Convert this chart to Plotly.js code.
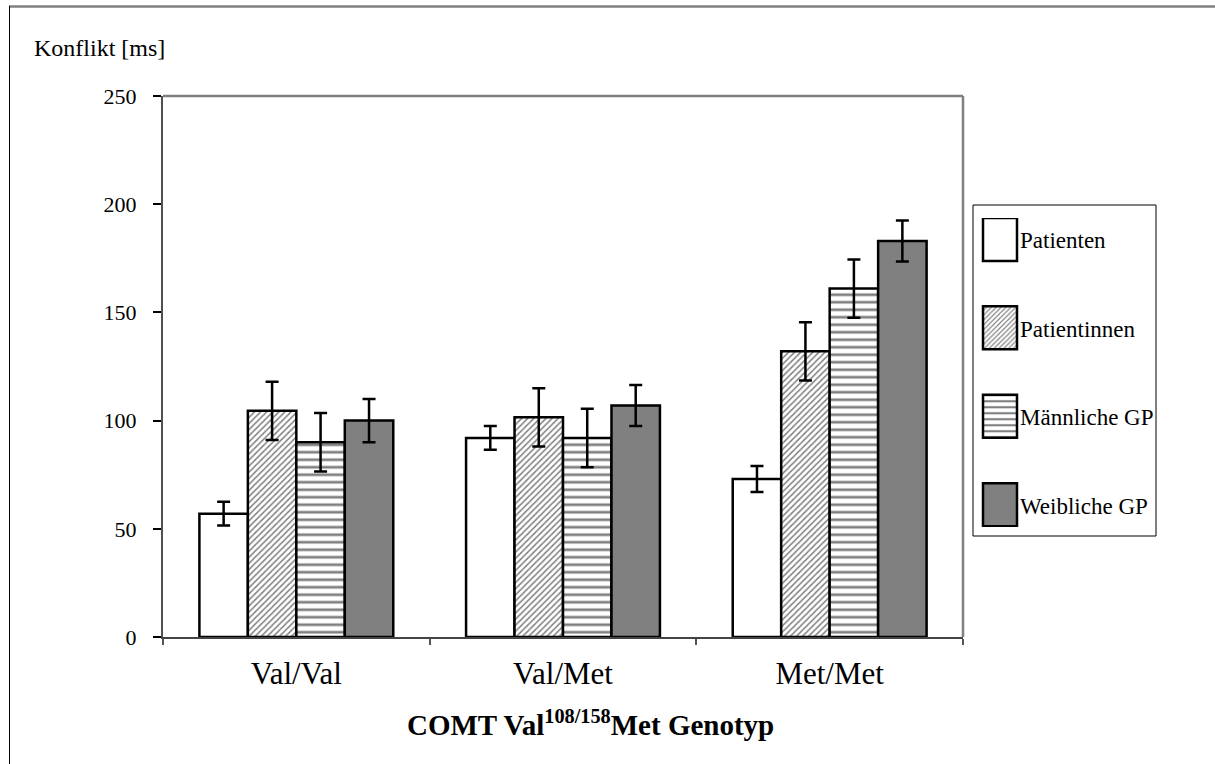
<!DOCTYPE html>
<html>
<head>
<meta charset="utf-8">
<script src="https://cdn.plot.ly/plotly-3.0.1.min.js"></script>
<style>
  html, body { margin: 0; padding: 0; background: #fff; }
  #chart { width: 1215px; height: 764px; }
</style>
</head>
<body>
<div id="chart"></div>
<script>
// Genotype groups on the x axis
const categories = ['Val/Val', 'Val/Met', 'Met/Met'];

// Series names (legend)
const seriesNames = ['Patienten', 'Patientinnen', 'Männliche GP', 'Weibliche GP'];

// Mean conflict effect [ms] per genotype, and its error (± ms)
const patienten       = [57, 92, 73];
const patientenErr    = [5.5, 5.5, 6];
const patientinnen    = [104.5, 101.5, 132];
const patientinnenErr = [13.5, 13.5, 13.5];
const maennlicheGP    = [90, 92, 161];
const maennlicheGPErr = [13.5, 13.5, 13.5];
const weiblicheGP     = [100, 107, 183];
const weiblicheGPErr  = [10, 9.5, 9.5];

// Y axis ticks
const yTicks = [0, 50, 100, 150, 200, 250];

// ---- layout geometry (pixels) ----
const W = 1215, H = 764;
const M = { l: 163, r: 252, t: 96, b: 127 };
const PW = W - M.l - M.r, PH = H - M.t - M.b;
const px2x = px => (px - M.l) / PW;
const px2y = py => (H - M.b - py) / PH;

const FONT = '"Liberation Serif", "Times New Roman", serif';
const GRAY = '#808080';

function barTrace(name, values, errors, marker) {
  return {
    type: 'bar',
    name: name,
    legendgroup: name,
    x: categories,
    y: values,
    marker: Object.assign({ line: { color: '#000', width: 2.5 } }, marker),
    error_y: { type: 'data', array: errors, visible: true, color: '#000', thickness: 2.5, width: 6.5 },
    hoverinfo: 'x+y+name'
  };
}

const data = [
  barTrace(seriesNames[0], patienten, patientenErr, { color: '#ffffff' }),
  barTrace(seriesNames[1], patientinnen, patientinnenErr,
    { color: '#ffffff', pattern: { shape: '/', fgcolor: GRAY, bgcolor: '#ffffff', size: 4.3, solidity: 0.35, fillmode: 'replace' } }),
  barTrace(seriesNames[2], maennlicheGP, maennlicheGPErr,
    { color: '#ffffff', pattern: { shape: '-', fgcolor: GRAY, bgcolor: '#ffffff', size: 7.5, solidity: 0.36, fillmode: 'replace' } }),
  barTrace(seriesNames[3], weiblicheGP, weiblicheGPErr, { color: GRAY })
];

const layout = {
  width: W,
  height: H,
  margin: M,
  paper_bgcolor: '#ffffff',
  plot_bgcolor: '#ffffff',
  font: { family: FONT, color: '#000', size: 22 },
  barmode: 'group',
  bargap: 0.273,
  bargroupgap: 0,
  showlegend: true,
  legend: {
    x: px2x(980), y: px2y(218), xanchor: 'left', yanchor: 'top',
    bgcolor: 'rgba(0,0,0,0)', borderwidth: 0,
    font: { family: FONT, size: 23, color: '#000' },
    tracegroupgap: 55.5,
    traceorder: 'grouped'
  },
  xaxis: {
    type: 'category',
    range: [-0.5, 2.5],
    showline: true, linecolor: '#444', linewidth: 2,
    ticks: 'outside', tickson: 'boundaries', ticklen: 6, tickcolor: '#555', tickwidth: 1.5,
    tickfont: { family: FONT, size: 31 },
    ticklabelstandoff: 8,
    showgrid: false, zeroline: false, fixedrange: true
  },
  yaxis: {
    range: [0, 250],
    tickvals: yTicks,
    ticktext: yTicks.map(String),
    showline: true, linecolor: '#505050', linewidth: 2,
    ticks: 'outside', ticklen: 8, tickcolor: '#000', tickwidth: 1.5,
    tickfont: { family: FONT, size: 22 },
    ticklabelstandoff: 12,
    showgrid: false, zeroline: false, fixedrange: true
  },
  shapes: [
    // plot frame: top and right edges
    { type: 'line', xref: 'paper', yref: 'paper', x0: 0, x1: 1, y0: 1, y1: 1, line: { color: GRAY, width: 2.5 } },
    { type: 'line', xref: 'paper', yref: 'paper', x0: 1, x1: 1, y0: 0, y1: 1, line: { color: GRAY, width: 2.5 } },
    // legend box
    { type: 'rect', xref: 'paper', yref: 'paper', x0: px2x(973), x1: px2x(1156), y0: px2y(536), y1: px2y(205),
      line: { color: '#000', width: 1 }, fillcolor: 'rgba(0,0,0,0)' },
    // outer chart frame: top and left edges
    { type: 'line', xref: 'paper', yref: 'paper', x0: px2x(9), x1: px2x(1220), y0: px2y(6.5), y1: px2y(6.5), line: { color: GRAY, width: 2.5 } },
    { type: 'line', xref: 'paper', yref: 'paper', x0: px2x(9.5), x1: px2x(9.5), y0: px2y(6), y1: px2y(770), line: { color: '#000', width: 1 } }
  ],
  annotations: [
    { text: 'Konflikt [ms]', xref: 'paper', yref: 'paper', x: px2x(32), y: px2y(48),
      xanchor: 'left', yanchor: 'middle', showarrow: false, font: { family: FONT, size: 24 } },
    { text: '<b>COMT Val<sup>108/158</sup>Met Genotyp</b>', xref: 'paper', yref: 'paper', x: px2x(590), y: px2y(723),
      xanchor: 'center', yanchor: 'middle', showarrow: false, font: { family: FONT, size: 29 } }
  ]
};

Plotly.newPlot('chart', data, layout, { displayModeBar: false, responsive: false }).then(gd => {
  // enlarge the legend swatches to tall boxes
  gd.querySelectorAll('.legend .traces .legendpoints path').forEach(p => {
    p.setAttribute('d', 'M-17,-21.5H17V21.5H-17Z');
    p.style.strokeWidth = '2.5px';
    p.style.stroke = '#000';
  });
});
</script>
</body>
</html>
